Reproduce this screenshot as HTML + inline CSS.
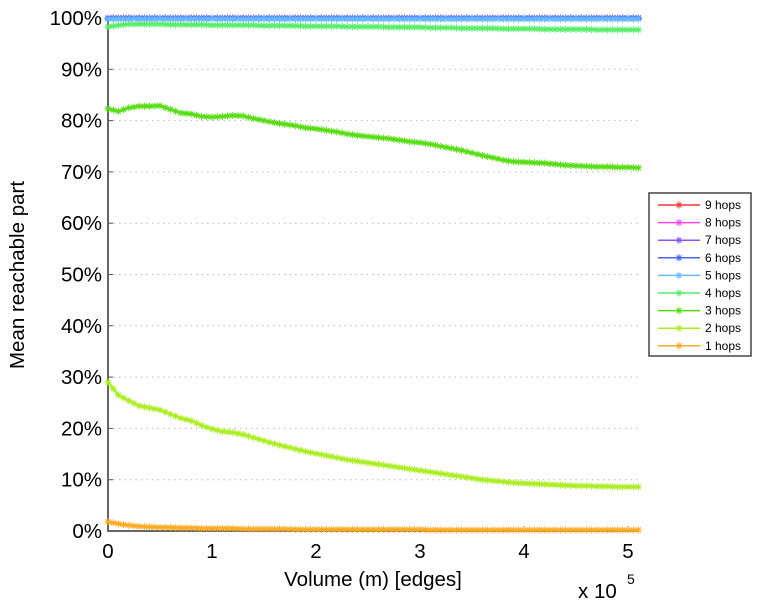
<!DOCTYPE html>
<html><head><meta charset="utf-8"><style>
body{margin:0;background:#fff;}
svg text{font-family:"Liberation Sans",sans-serif;}
</style></head><body>
<svg id="chart" width="760" height="600">
</svg>
<script>
const xs = [0,0.1,0.2,0.3,0.4,0.5,0.6,0.7,0.8,0.9,1.0,1.1,1.2,1.3,1.4,1.5,1.6,1.7,1.8,1.9,2.0,2.1,2.2,2.3,2.4,2.5,2.6,2.7,2.8,2.9,3.0,3.1,3.2,3.3,3.4,3.5,3.6,3.7,3.8,3.9,4.0,4.1,4.2,4.3,4.4,4.5,4.6,4.7,4.8,4.9,5.0,5.1];
const hops1 = [1.8,1.4,1.1,0.9,0.8,0.7,0.7,0.6,0.6,0.5,0.5,0.5,0.5,0.4,0.4,0.4,0.4,0.4,0.3,0.3,0.3,0.3,0.3,0.3,0.3,0.3,0.3,0.3,0.3,0.3,0.3,0.2,0.2,0.2,0.2,0.2,0.2,0.2,0.2,0.2,0.2,0.2,0.2,0.2,0.2,0.2,0.2,0.2,0.2,0.2,0.2,0.2];
const hops2 = [29,26.5,25.4,24.4,24.0,23.6,22.8,22.0,21.5,20.6,19.9,19.4,19.2,18.8,18.2,17.6,17.0,16.5,16.0,15.5,15.1,14.7,14.3,13.9,13.6,13.3,13.0,12.7,12.4,12.1,11.8,11.5,11.2,10.9,10.6,10.3,10.0,9.8,9.6,9.4,9.3,9.2,9.1,9.0,8.9,8.8,8.8,8.7,8.7,8.6,8.6,8.6];
const hops3 = [82.3,81.8,82.5,82.8,82.8,82.9,82.2,81.5,81.3,80.8,80.7,80.8,81.0,80.9,80.4,80.0,79.6,79.3,79.0,78.6,78.4,78.1,77.8,77.4,77.1,76.9,76.7,76.5,76.2,75.9,75.7,75.4,75.0,74.6,74.2,73.7,73.2,72.8,72.3,72.0,71.9,71.8,71.7,71.5,71.3,71.2,71.1,71.0,71.0,70.9,70.9,70.8];
const hops4 = [98.3,98.6,98.8,98.8,98.8,98.8,98.7,98.7,98.7,98.7,98.6,98.6,98.6,98.6,98.6,98.5,98.5,98.5,98.5,98.4,98.4,98.4,98.4,98.3,98.3,98.3,98.3,98.2,98.2,98.2,98.2,98.1,98.1,98.1,98.0,98.0,98.0,98.0,97.9,97.9,97.9,97.9,97.8,97.8,97.8,97.8,97.8,97.7,97.7,97.7,97.7,97.7];
const hopsHigh = [100,100,100,100,100,100,100,100,100,100,100,100,100,100,100,100,100,100,100,100,100,100,100,100,100,100,100,100,100,100,100,100,100,100,100,100,100,100,100,100,100,100,100,100,100,100,100,100,100,100,100,100];
const hops5 = [99.8,99.8,99.8,99.8,99.8,99.8,99.8,99.8,99.8,99.8,99.8,99.8,99.8,99.8,99.8,99.8,99.8,99.8,99.8,99.8,99.8,99.8,99.8,99.8,99.8,99.8,99.8,99.8,99.8,99.8,99.8,99.8,99.8,99.8,99.8,99.8,99.8,99.8,99.8,99.8,99.8,99.8,99.8,99.8,99.8,99.8,99.8,99.8,99.8,99.8,99.8,99.8];
const yTicks = [0,10,20,30,40,50,60,70,80,90,100];
const xTicks = [0,1,2,3,4,5];
const seriesNames = ["9 hops","8 hops","7 hops","6 hops","5 hops","4 hops","3 hops","2 hops","1 hops"];
const seriesColors = ["#ff3333","#ff44ee","#8855ff","#4466ff","#66bbff","#55ee66","#55dd11","#aaee22","#ffaa22"];

const NS="http://www.w3.org/2000/svg";
const svg=document.getElementById('chart');
const L=108,R=638,T=18,B=531;
const sx=v=>L+v*104;
const sy=v=>B-(v/100)*(B-T);
function mk(tag,attrs,parent){const e=document.createElementNS(NS,tag);for(const k in attrs)e.setAttribute(k,attrs[k]);(parent||svg).appendChild(e);return e;}

yTicks.forEach(t=>{
  if(t>0&&t<100){const g=mk('line',{x1:L,x2:R,y1:sy(t),y2:sy(t),stroke:'#bbb','stroke-dasharray':'1.5 4'});
  
  }
  const tx=mk('text',{x:L-6,y:sy(t)+7,'text-anchor':'end','font-size':'20.5',fill:'#000'});tx.textContent=t+'%';
  
  
  mk('line',{x1:L,x2:L+5,y1:sy(t),y2:sy(t),stroke:'#555'});
});
xTicks.forEach(t=>{
  const tx=mk('text',{x:sx(t),y:B+27,'text-anchor':'middle','font-size':'20.5',fill:'#000'});tx.textContent=t;
  
  
  mk('line',{x1:sx(t),x2:sx(t),y1:B,y2:B-5,stroke:'#555'});
});
const ax=mk('path',{d:`M${L} ${T-2} V${B} H${R}`,stroke:'#666','stroke-width':2,fill:'none'});



function star(g,x,y,c,s){
  mk('path',{d:`M${x-s} ${y}H${x+s}M${x} ${y-s}V${y+s}M${x-s*.7} ${y-s*.7}L${x+s*.7} ${y+s*.7}M${x-s*.7} ${y+s*.7}L${x+s*.7} ${y-s*.7}`,stroke:c,'stroke-width':1,fill:'none'},g);
}
function series(vals,color,name){
  const g=mk('g',{});
  
  
  mk('polyline',{points:xs.map((x,i)=>sx(x)+','+sy(vals[i])).join(' '),stroke:color,'stroke-width':3,fill:'none','stroke-opacity':0.85},g);
  xs.forEach((x,i)=>{star(g,sx(x),sy(vals[i]),color,3.5);
    if(i<xs.length-1){star(g,(sx(x)+sx(xs[i+1]))/2,(sy(vals[i])+sy(vals[i+1]))/2,color,3.5);}});
}
series(hops1,seriesColors[8],'series-1-hops');
series(hops2,seriesColors[7],'series-2-hops');
series(hops3,seriesColors[6],'series-3-hops');
series(hops4,seriesColors[5],'series-4-hops');
series(hopsHigh,seriesColors[0],'series-9-hops');
series(hopsHigh,seriesColors[1],'series-8-hops');
series(hopsHigh,seriesColors[2],'series-7-hops');
series(hopsHigh,seriesColors[3],'series-6-hops');
series(hops5,seriesColors[4],'series-5-hops');

const xl=mk('text',{x:373,y:586,'text-anchor':'middle','font-size':'20.5'});xl.textContent='Volume (m) [edges]';


const ex=mk('text',{x:578,y:598,'font-size':'20.5'});ex.textContent='x 10';


const ex2=mk('text',{x:627,y:584,'font-size':'14'});ex2.textContent='5';


const yl=mk('text',{x:24,y:275,'text-anchor':'middle','font-size':'20.5',transform:'rotate(-90 24 275)'});yl.textContent='Mean reachable part';



const lg=mk('g',{});


mk('rect',{x:649,y:193,width:102,height:163,fill:'#fff',stroke:'#444','stroke-width':1.5},lg);
seriesNames.forEach((n,i)=>{
  const y=205+i*17.6;
  const e=mk('g',{},lg);
  
  
  mk('line',{x1:658,x2:700,y1:y,y2:y,stroke:seriesColors[i],'stroke-width':1.5},e);
  star(e,679,y,seriesColors[i],3.5);
  const t=mk('text',{x:705,y:y+4,'font-size':'12'},e);t.textContent=n;
});
</script>
</body></html>
